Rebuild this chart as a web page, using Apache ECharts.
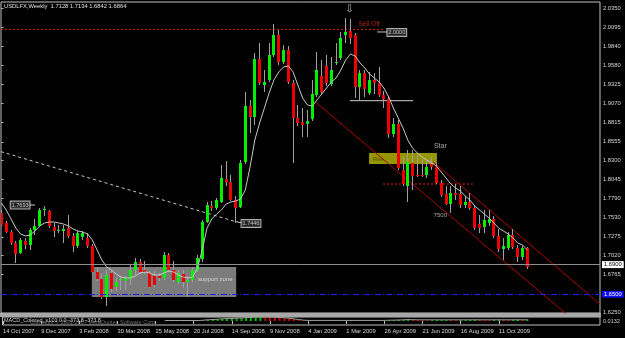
<!DOCTYPE html>
<html>
<head>
<meta charset="utf-8">
<title>USDLFX Weekly</title>
<script src="https://cdn.jsdelivr.net/npm/echarts@6/dist/echarts.min.js"></script>
<style>
  html, body { margin: 0; padding: 0; background: #000; }
  #main { width: 625px; height: 338px; }
</style>
</head>
<body>
<div id="main"></div>
<script>
// weekly bars, 14 Oct 2007 .. 22 Nov 2009
var opens = [1.7596,1.7461,1.7339,1.7191,1.7056,1.7218,1.7164,1.7366,1.7420,1.7636,
  1.7622,1.7407,1.7359,1.7353,1.7393,1.7286,1.7151,1.7272,1.7259,1.7151,
  1.6800,1.6706,1.6463,1.6787,1.6598,1.6699,1.6679,1.6706,1.6827,1.6935,
  1.6827,1.6787,1.6746,1.6746,1.6720,1.7029,1.6827,1.6666,1.6773,1.6666,
  1.6693,1.6814,1.6975,1.7474,1.7690,1.7663,1.7744,1.8054,1.8013,1.7771,
  1.7676,1.8283,1.9037,1.8889,1.9671,1.9320,1.9388,1.9725,1.9994,1.9630,
  1.9792,1.9347,1.8876,1.8822,1.8795,1.8862,1.9186,1.9442,1.9577,1.9334,
  1.9617,1.9684,1.9994,2.0048,1.9994,1.9293,1.9482,1.9213,1.9388,1.9347,
  1.9186,1.9132,1.8660,1.8795,1.8175,1.7959,1.8269,1.8108,1.8108,1.8108,
  1.8256,1.8215,1.8000,1.7852,1.7717,1.7865,1.7852,1.7703,1.7744,1.7663,
  1.7447,1.7407,1.7461,1.7515,1.7286,1.7110,1.7124,1.7299,1.7124,1.7002,
  1.7128];
var closes = [1.7434,1.7339,1.7191,1.7043,1.7232,1.7164,1.7366,1.7420,1.7636,1.7649,
  1.7420,1.7353,1.7366,1.7380,1.7286,1.7151,1.7326,1.7326,1.7151,1.6800,
  1.6706,1.6463,1.6760,1.6571,1.6666,1.6706,1.6720,1.6827,1.6935,1.6800,
  1.6800,1.6598,1.6625,1.6720,1.7029,1.6827,1.6693,1.6787,1.6666,1.6693,
  1.6827,1.6989,1.7474,1.7703,1.7663,1.7771,1.8067,1.8013,1.7771,1.7663,
  1.8269,1.9037,1.8889,1.9671,1.9347,1.9361,1.9725,1.9994,1.9630,1.9792,
  1.9361,1.8876,1.8808,1.8781,1.8835,1.9199,1.9523,1.9226,1.9347,1.9523,
  1.9630,1.9954,2.0035,1.9954,1.9293,1.9482,1.9267,1.9388,1.9347,1.9186,
  1.9132,1.8660,1.8795,1.8202,1.7986,1.8283,1.8094,1.8094,1.8094,1.8215,
  1.8215,1.8000,1.7838,1.7717,1.7865,1.7838,1.7703,1.7744,1.7663,1.7393,
  1.7393,1.7501,1.7515,1.7286,1.7110,1.7151,1.7299,1.7137,1.7002,1.7124,
  1.6864];
var highs = [1.7636,1.7488,1.7366,1.7218,1.7259,1.7259,1.7393,1.7515,1.7663,1.7693,
  1.7636,1.7461,1.7434,1.7434,1.7568,1.7326,1.7353,1.7353,1.7326,1.7178,
  1.6868,1.6773,1.6827,1.6827,1.6720,1.6733,1.6746,1.6895,1.6989,1.6975,
  1.6949,1.6814,1.6814,1.6787,1.7070,1.7056,1.6949,1.6827,1.6827,1.6746,
  1.6868,1.7029,1.7501,1.7744,1.7757,1.7798,1.8242,1.8296,1.8108,1.7825,
  1.8310,1.9226,1.9118,1.9752,1.9887,1.9523,1.9887,2.0143,2.0062,1.9860,
  1.9846,1.9388,1.9051,1.9011,1.8984,1.9388,1.9765,1.9657,1.9725,1.9698,
  1.9887,2.0035,2.0223,2.0210,2.0021,1.9523,1.9523,1.9496,1.9482,1.9563,
  1.9240,1.9159,1.8876,1.8849,1.8350,1.8444,1.8444,1.8377,1.8310,1.8310,
  1.8350,1.8256,1.8040,1.7959,1.7959,1.7986,1.7959,1.7825,1.7865,1.7690,
  1.7568,1.7636,1.7636,1.7555,1.7380,1.7259,1.7339,1.7380,1.7164,1.7151,
  1.7134];
var lows = [1.7420,1.7326,1.7164,1.6922,1.7043,1.7110,1.7097,1.7299,1.7407,1.7555,
  1.7393,1.7272,1.7326,1.7191,1.7259,1.7070,1.7124,1.7232,1.7124,1.6787,
  1.6679,1.6436,1.6342,1.6531,1.6544,1.6558,1.6558,1.6625,1.6760,1.6773,
  1.6773,1.6585,1.6598,1.6679,1.6693,1.6800,1.6666,1.6639,1.6585,1.6463,
  1.6666,1.6800,1.6935,1.7461,1.7622,1.7636,1.7730,1.7959,1.7757,1.7461,
  1.7663,1.8256,1.8674,1.8781,1.9320,1.9226,1.9361,1.9698,1.9590,1.9603,
  1.9334,1.8269,1.8768,1.8620,1.8620,1.8835,1.9159,1.9199,1.9307,1.9307,
  1.9590,1.9657,1.9887,1.9873,1.9145,1.9118,1.9159,1.9186,1.9199,1.9159,
  1.9011,1.8606,1.8620,1.8175,1.7959,1.7744,1.7905,1.8081,1.8081,1.8067,
  1.8175,1.7986,1.7811,1.7703,1.7595,1.7771,1.7663,1.7663,1.7636,1.7366,
  1.7326,1.7326,1.7420,1.7259,1.7070,1.6962,1.7097,1.7110,1.6935,1.6962,
  1.6842];
// moving average line as drawn
var maLine = [1.7730,1.7636,1.7515,1.7393,1.7313,1.7286,1.7299,1.7353,1.7420,1.7461,
  1.7474,1.7474,1.7461,1.7447,1.7420,1.7380,1.7353,1.7339,1.7313,1.7232,
  1.7097,1.6962,1.6868,1.6827,1.6773,1.6733,1.6720,1.6720,1.6746,1.6787,
  1.6800,1.6787,1.6760,1.6760,1.6787,1.6814,1.6800,1.6760,1.6733,1.6720,
  1.6733,1.6854,1.7097,1.7393,1.7515,1.7582,1.7636,1.7717,1.7744,1.7757,
  1.7784,1.7905,1.8215,1.8579,1.8808,1.9010,1.9213,1.9388,1.9496,1.9563,
  1.9577,1.9496,1.9320,1.9145,1.9051,1.9037,1.9118,1.9199,1.9280,1.9361,
  1.9415,1.9523,1.9657,1.9738,1.9711,1.9617,1.9550,1.9469,1.9415,1.9361,
  1.9280,1.9159,1.9010,1.8876,1.8741,1.8579,1.8471,1.8404,1.8350,1.8310,
  1.8269,1.8229,1.8148,1.8067,1.7986,1.7932,1.7892,1.7825,1.7771,1.7690,
  1.7636,1.7582,1.7528,1.7461,1.7393,1.7353,1.7313,1.7259,1.7191,1.7164,
  1.7097];
var macdHist = [0,0,0,0,0,0,0,0,0,0,0,0,0,0,0,0,0,0,0,0,0,0,0,0,0,0,0,0,0,0,0,0,0,0,
  0.4,0.4,0.4,0.4,0.4,0.4,0.4,0.4,
  0.5,1,1.3,1.6,2,2.3,2.5,2.6,2.8,3.2,3.5,3.8,3.9,3.8,3.7,3.6,3.3,3,2.6,2,1.2,0.6,
  0.4,0.4,0.4,0.4,0.4,0.4,0.4,
  0.8,0.8,0.8,0.8,0.8,0.8,0.8,
  0.4,0.4,0.4,
  0.8,0.9,1.2,1.6,2.2,1.4,
  1.0,0.9,0.8,0.9,1.0,1.1,1.3,1.2,1.0,1.1,1.3,1.4,1.6,1.5,1.3,1.2,1.4,1.6,1.5,1.3,1.4,1.6,1.5,1.7];
var macdSignal = [null,null,null,null,null,null,null,null,null,null,null,null,null,null,null,null,null,
  null,null,null,null,null,null,null,null,null,null,null,null,null,null,null,null,null,
  0.5,0.5,0.5,0.5,0.5,0.5,0.5,0.5,
  0.8,1.2,1.5,1.8,2.1,2.4,2.6,2.8,3.0,3.3,3.6,3.9,4.0,4.0,3.9,3.8,3.5,3.2,2.8,2.2,1.5,0.9,
  0.6,0.6,0.6,0.6,0.6,0.6,0.6,0.6,0.6,0.6,0.6,0.6,0.6,0.6,0.6,0.6,0.6,
  0.8,0.9,1.0,1.2,1.4,1.3,
  1.2,1.2,1.2,1.2,1.2,1.2,1.2,1.2,1.2,1.2,1.2,1.2,1.2,1.2,1.2,1.2,1.2,1.2,1.2,1.2,1.2,1.2,1.2,1.2];
var dateLabels = ['14 Oct 2007','9 Dec 2007','3 Feb 2008','30 Mar 2008','25 May 2008','20 Jul 2008',
  '14 Sep 2008','9 Nov 2008','4 Jan 2009','1 Mar 2009','26 Apr 2009','21 Jun 2009','16 Aug 2009','11 Oct 2009'];
var dateIdx = [0,8,16,24,32,40,48,56,64,72,80,88,96,104];
var priceTicks = [2.0350,2.0095,1.9840,1.9580,1.9325,1.9070,1.8815,1.8555,1.8300,1.8045,
  1.7790,1.7530,1.7275,1.7020,1.6765,1.6250];

// drawn objects (index, price)
var sellOffLine = [[-0.1, 2.0071], [79.8, 2.0071]];
var topLine = [[72.9, 1.9109], [86.1, 1.9109]];
var supportLine = [[79.8, 1.7986], [98.6, 1.7986]];
var oldTrend = [[-0.1, 1.8422], [48.85, 1.7481]];
var channelLow = [[65.2, 1.9118], [125.2, 1.5850]];
var channelHigh = [[90.3, 1.8283], [125.2, 1.6369]];
var supportZone = [[18.9, 1.6868], [49.1, 1.6463]];
var resZone = [[76.9, 1.8404], [91.1, 1.8256]];
var bidPrice = 1.6864;
var blueLevel = 1.6500;

var FONT = 'Liberation Sans';
var upColor = '#00f000', downColor = '#f00000', wickColor = '#a0a0a0';

var candleData = opens.map(function (o, i) { return [i, o, closes[i], lows[i], highs[i]]; });

function renderCandle(params, api) {
  var i = api.value(0);
  var o = api.value(1), c = api.value(2), l = api.value(3), h = api.value(4);
  var pO = api.coord([i, o]), pC = api.coord([i, c]);
  var pH = api.coord([i, h]), pL = api.coord([i, l]);
  var left = Math.round(pO[0] - 1.5);
  var wx = left + 1.5;
  var top = Math.round(Math.min(pO[1], pC[1]));
  var bot = Math.round(Math.max(pO[1], pC[1]));
  var fill = c > o ? upColor : (c < o ? downColor : wickColor);
  return {
    type: 'group',
    children: [
      { type: 'line', shape: { x1: wx, y1: Math.round(pH[1]), x2: wx, y2: Math.round(pL[1]) },
        style: { stroke: wickColor, lineWidth: 1 } },
      { type: 'rect', shape: { x: left, y: top, width: 3, height: Math.max(1, bot - top) },
        style: { fill: fill } }
    ]
  };
}

function seg(pts, color, type, z) {
  return {
    type: 'line', data: pts, symbol: 'none', silent: true, z: z || 2,
    lineStyle: { color: color, width: 1, type: type || 'solid' }
  };
}

function boxLabel(txt, x, y) {
  return { name: txt, value: [x, y], label: { backgroundColor: '#2a2a2a', borderColor: '#d8d8d8',
    borderWidth: 1, padding: [1, 1, 0, 1], color: '#e8e8e8', fontSize: 5.5 } };
}

var notes = [
  { name: '\u21e9', value: [72.8, 2.0338], label: { fontSize: 10, color: '#e0e0e0', fontFamily: 'DejaVu Sans' } },
  { name: 'Sell Off', value: [76.9, 2.0140], label: { fontSize: 6.5, color: '#e02a10' } },
  { name: 'Star', value: [91.8, 1.8492], label: { fontSize: 7, color: '#d0d0d0' } },
  { name: '7500', value: [91.8, 1.7568], label: { fontSize: 6, color: '#d0d0d0' } },
  { name: 'Res', value: [78.8, 1.8320], label: { fontSize: 6, color: '#3a3a00' } },
  { name: 'support zone', value: [41.1, 1.6699], label: { fontSize: 6, color: '#e8e8e8', position: 'right', distance: 0 } },
  boxLabel('2.0000', 82.7, 2.0028),
  boxLabel('1.7693', 3.9, 1.7703),
  boxLabel('1.7446', 52.2, 1.7454)
];

var myChart = echarts.init(document.getElementById('main'));
var option = {
  backgroundColor: '#000000',
  animation: false,
  textStyle: { fontFamily: FONT },
  title: {
    text: 'USDLFX,Weekly  1.7128 1.7134 1.6842 1.6864',
    left: 4, top: 3, padding: 0,
    textStyle: { fontSize: 5.8, color: '#e0e0e0', fontWeight: 'normal', fontFamily: FONT }
  },
  grid: [
    { left: 1, top: 2, width: 599, height: 311, show: true, borderColor: '#c0c0c0', borderWidth: 1 },
    { left: 1, top: 317, width: 599, height: 8, show: true, borderColor: '#c0c0c0', borderWidth: 1 }
  ],
  xAxis: [
    { gridIndex: 0, type: 'value', min: -0.1, max: 125.21, show: false },
    {
      gridIndex: 1, type: 'value', min: -0.1, max: 125.21,
      splitLine: { show: false }, axisLine: { show: false },
      axisTick: { show: true, customValues: dateIdx, length: 3, lineStyle: { color: '#c0c0c0' } },
      axisLabel: {
        customValues: dateIdx, align: 'left', margin: 3, fontSize: 5.8, color: '#d8d8d8', fontFamily: FONT,
        formatter: function (v) { return dateLabels[dateIdx.indexOf(Math.round(v))]; }
      }
    }
  ],
  yAxis: [
    {
      gridIndex: 0, type: 'value', position: 'right', min: 1.6248, max: 2.0439,
      splitLine: { show: false }, axisLine: { show: false },
      axisTick: { show: true, customValues: priceTicks, length: 2, lineStyle: { color: '#c0c0c0' } },
      axisLabel: {
        customValues: priceTicks, margin: 3, fontSize: 5.8, color: '#d8d8d8', fontFamily: FONT,
        padding: [0, 0, 3, 0],
        formatter: function (v) { return v.toFixed(4); }
      }
    },
    { gridIndex: 1, type: 'value', min: -4, max: 4, show: false }
  ],
  graphic: [
    { type: 'rect', shape: { x: 0, y: 313, width: 601, height: 4 }, style: { fill: '#a8a8a8' }, silent: true },
    { type: 'text', left: 30, top: 319, silent: true,
      style: { text: 'Copyright \u00a9 2001-2007 MetaQuotes Software Corp.', fill: '#707070', font: '5.5px "Liberation Sans"' } },
    { type: 'text', left: 4, top: 317, silent: true,
      style: { text: 'MACD_Colored_v101 0.0 -373.8 -373.8', fill: '#d0d0d0', font: '5.5px "Liberation Sans"' } },
    { type: 'text', left: 603, top: 318, silent: true,
      style: { text: '0.0132', fill: '#d0d0d0', font: '5.5px "Liberation Sans"' } }
  ],
  series: [
    seg(oldTrend, '#c8c8c8', [3, 3]),
    seg(sellOffLine, '#e02010', [2, 2]),
    seg(topLine, '#d0d0d0'),
    seg(supportLine, '#e02010', [2, 2]),
    seg(channelLow, '#b00000'),
    seg(channelHigh, '#b00000'),
    seg([[5.76, 1.7703], [7.0, 1.7703]], '#c8c8c8'),
    seg([[48.85, 1.7481], [50.5, 1.7461]], '#c8c8c8'),
    seg([[78.6, 2.0035], [81.3, 2.0035]], '#c8c8c8'),
    {
      name: 'USDLFX', type: 'custom', renderItem: renderCandle, data: candleData, clip: true, z: 3,
      dimensions: ['i', 'open', 'close', 'low', 'high'], encode: { x: 0, y: [1, 2, 3, 4] }
    },
    {
      name: 'MA', type: 'line', data: maLine.map(function (v, i) { return [i, v]; }),
      symbol: 'none', z: 4, silent: true,
      lineStyle: { color: '#c8c8c8', width: 1 },
      markArea: {
        silent: true,
        label: { show: false },
        data: [
          [{ xAxis: supportZone[0][0], yAxis: supportZone[0][1], itemStyle: { color: '#7c7c7c' } },
           { xAxis: supportZone[1][0], yAxis: supportZone[1][1] }],
          [{ xAxis: resZone[0][0], yAxis: resZone[0][1], itemStyle: { color: '#969600' } },
           { xAxis: resZone[1][0], yAxis: resZone[1][1] }]
        ]
      },
      markLine: {
        silent: true, symbol: ['none', 'none'],
        data: [
          { yAxis: bidPrice, lineStyle: { color: '#909090', type: 'solid', width: 1 },
            label: { show: true, position: 'end', distance: 2, backgroundColor: '#ffffff', color: '#000000',
              fontSize: 5.8, padding: [1, 2, 0, 2], formatter: function (p) { return p.value.toFixed(4); } } },
          { yAxis: blueLevel, lineStyle: { color: '#1c1cff', type: [6, 2, 1, 2], width: 1 },
            label: { show: true, position: 'end', distance: 2, backgroundColor: '#1010ee', color: '#ffffff',
              fontSize: 5.8, padding: [1, 2, 0, 2], formatter: function (p) { return p.value.toFixed(4); } } }
        ]
      }
    },
    {
      name: 'notes', type: 'scatter', data: notes, symbolSize: 0, z: 6, silent: true,
      itemStyle: { color: 'rgba(0,0,0,0)' },
      label: { show: true, position: 'inside', formatter: '{b}', fontFamily: FONT }
    },
    {
      name: 'MACD', type: 'bar', xAxisIndex: 1, yAxisIndex: 1, barWidth: 2, silent: true,
      data: macdHist.map(function (v, i) { return [i, v]; }),
      itemStyle: {
        color: function (p) {
          var i = p.dataIndex;
          return (i === 0 || macdHist[i] >= macdHist[i - 1]) ? '#00c000' : '#d00000';
        }
      }
    },
    {
      name: 'Signal', type: 'line', xAxisIndex: 1, yAxisIndex: 1, symbol: 'none', silent: true,
      data: macdSignal.map(function (v, i) { return [i, v]; }),
      lineStyle: { color: '#a0a0a0', width: 1 }
    }
  ]
};
myChart.setOption(option);
</script>
</body>
</html>
